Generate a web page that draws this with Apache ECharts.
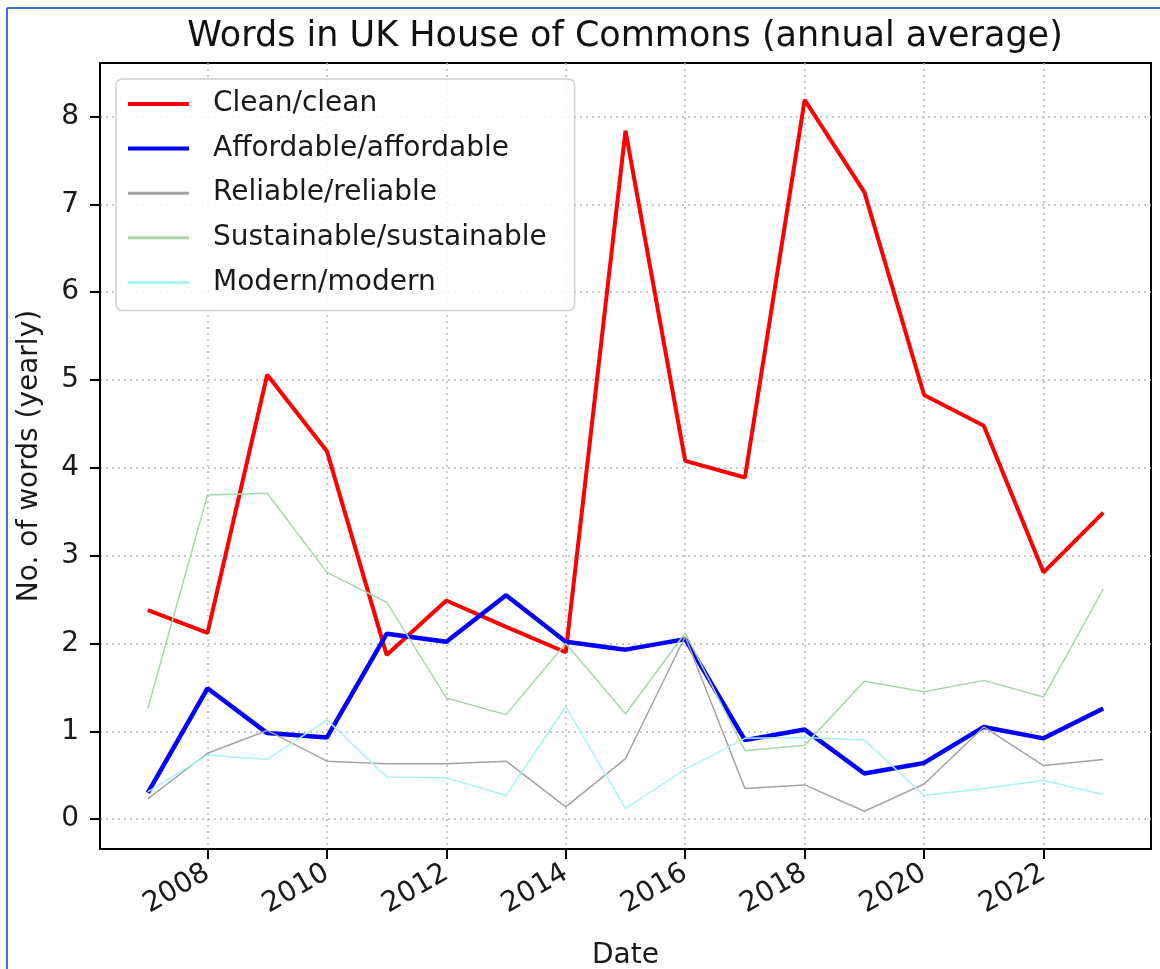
<!DOCTYPE html>
<html>
<head>
<meta charset="utf-8">
<script src="https://cdn.jsdelivr.net/npm/echarts@6/dist/echarts.min.js"></script>
<style>
html,body{margin:0;padding:0;background:#fff;}
#chart{width:1160px;height:969px;}
</style>
</head>
<body>
<div id="chart"></div>
<script>
const years = [2007,2008,2009,2010,2011,2012,2013,2014,2015,2016,2017,2018,2019,2020,2021,2022,2023];
const xTicks = [2008,2010,2012,2014,2016,2018,2020,2022];
const yTicks = [0,1,2,3,4,5,6,7,8];
const seriesNames = ['Clean/clean','Affordable/affordable','Reliable/reliable','Sustainable/sustainable','Modern/modern'];
const clean = [2.38,2.12,5.06,4.19,1.87,2.49,2.19,1.90,7.84,4.08,3.89,8.19,7.14,4.83,4.48,2.81,3.49];
const affordable = [0.30,1.49,0.98,0.93,2.11,2.02,2.55,2.02,1.93,2.05,0.90,1.02,0.52,0.64,1.05,0.92,1.26];
const reliable = [0.23,0.75,1.01,0.66,0.63,0.63,0.66,0.14,0.69,2.08,0.35,0.39,0.09,0.40,1.05,0.61,0.68];
const sustainable = [1.26,3.69,3.71,2.81,2.47,1.38,1.19,2.00,1.20,2.12,0.78,0.84,1.57,1.45,1.58,1.39,2.62];
const modern = [0.31,0.73,0.68,1.13,0.48,0.47,0.27,1.28,0.12,0.57,0.92,0.93,0.90,0.27,0.35,0.44,0.28];

const FONT = 'DejaVu Sans';
const values = [clean, affordable, reliable, sustainable, modern];
const colors = ['#ff0000','#0000ff','#a3a3a3','#a9d6a9','#a6f4f4'];
const widths = [4,4.5,1.5,1.5,1.5];
const legendWidths = [4,4,3,3,3];

const chart = echarts.init(document.getElementById('chart'), null, {renderer:'canvas'});
const option = {
  animation: false,
  backgroundColor: '#fff',
  textStyle: {fontFamily: FONT},
  grid: {left:100, top:63, width:1051, height:786, containLabel:false, outerBoundsMode:'none', show:true, borderColor:'#000', borderWidth:2, backgroundColor:'transparent'},
  graphic: [
    {type:'line', shape:{x1:7,y1:8,x2:1160,y2:8}, style:{stroke:'#4472c4', lineWidth:2}, silent:true},
    {type:'line', shape:{x1:7,y1:8,x2:7,y2:969}, style:{stroke:'#4472c4', lineWidth:2}, silent:true},
    {type:'text', x:625, y:37, style:{text:'Words in UK House of Commons (annual average)', font:'35px "DejaVu Sans"', fill:'#111', textAlign:'center', textVerticalAlign:'middle'}}
  ],
  legend: {
    orient:'vertical', left:116, top:79,
    data: seriesNames.map((n,i)=>({name:n, lineStyle:{width:legendWidths[i], color:colors[i]}})),
    itemWidth:61, itemHeight:14, itemGap:14.6,
    itemStyle:{opacity:0},
    padding:[10,28,13,10],
    backgroundColor:'rgba(255,255,255,0.85)', borderColor:'#d0d0d0', borderWidth:1.5, borderRadius:6,
    textStyle:{fontFamily:FONT, fontSize:28, color:'#1a1a1a', lineHeight:30, padding:[0,0,0,19]}
  },
  xAxis: {
    type:'value', min:2006.2, max:2023.8,
    name:'Date', nameLocation:'middle', nameGap:93,
    nameTextStyle:{fontFamily:FONT, fontSize:28, color:'#1a1a1a'},
    axisLine:{show:true, onZero:false, lineStyle:{color:'#000', width:2}},
    axisTick:{show:true, length:10, customValues:xTicks, lineStyle:{color:'#000', width:2}},
    axisLabel:{customValues:xTicks, rotate:30, margin:22, fontFamily:FONT, fontSize:28, color:'#1a1a1a', formatter:v=>String(v)},
    splitLine:{show:true, lineStyle:{color:'#b8b8b8', width:1.5, type:[2,4]}}
  },
  yAxis: {
    type:'value', min:-0.34, max:8.61,
    name:'No. of words (yearly)', nameLocation:'middle', nameGap:56, nameRotate:90,
    nameTextStyle:{fontFamily:FONT, fontSize:28, color:'#1a1a1a'},
    axisLine:{show:true, onZero:false, lineStyle:{color:'#000', width:2}},
    axisTick:{show:true, length:10, customValues:yTicks, lineStyle:{color:'#000', width:2}},
    axisLabel:{customValues:yTicks, margin:21, fontFamily:FONT, fontSize:28, color:'#1a1a1a', formatter:v=>String(v)},
    splitLine:{show:true, lineStyle:{color:'#b8b8b8', width:1.5, type:[2,4]}}
  },
  series: seriesNames.map((n,i)=>({
    name:n, type:'line', symbol:'none', showSymbol:false,
    data: years.map((y,j)=>[y, values[i][j]]),
    lineStyle:{color:colors[i], width:widths[i]},
    itemStyle:{color:colors[i]},
    z: 2+i
  }))
};
chart.setOption(option);
</script>
</body>
</html>
